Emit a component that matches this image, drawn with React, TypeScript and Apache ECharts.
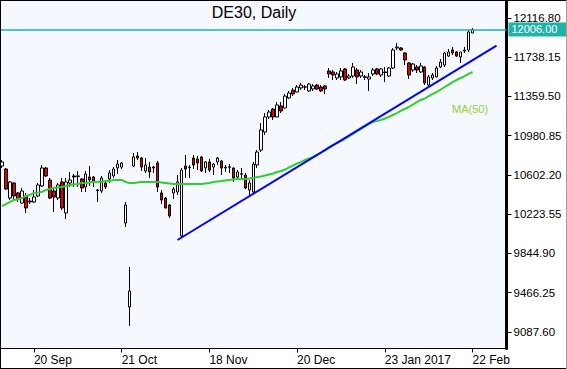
import React, { useEffect, useRef } from "react";
import * as echarts from "echarts";

// Daily candles (bar 0 .. bar 118 = 22 Feb)
const opens = [
  10689, 10660, 10380, 10525, 10429, 10332, 10400, 10351, 10342, 10400,
  10496, 10670, 10554, 10448, 10380, 10535, 10236, 10525, 10593, 10588,
  10564, 10486, 10583, 10583, 10458, 10448, 10525, 10564, 10593, 10670,
  10679, 10139, 9329, 10689, 10786, 10766, 10641, 10679, 10679, 10718,
  10429, 10380, 10313, 10429, 10438, 10014, 10689, 10679, 10766, 10757,
  10776, 10670, 10728, 10679, 10728, 10737, 10670, 10681, 10670, 10583,
  10610, 10602, 10458, 10438, 10699, 10843, 11017, 11162, 11239, 11162,
  11268, 11249, 11345, 11422, 11403, 11442, 11452, 11413, 11432, 11470,
  11451, 11461, 11606, 11596, 11538, 11548, 11625, 11538, 11557, 11615,
  11557, 11550, 11528, 11577, 11625, 11567, 11596, 11557, 11634, 11827,
  11827, 11779, 11683, 11615, 11644, 11596, 11644, 11470, 11538, 11548,
  11644, 11663, 11750, 11808, 11789, 11741, 11798, 11808, 11972,
];
const closes = [
  10728, 10467, 10535, 10400, 10371, 10448, 10284, 10342, 10390, 10506,
  10670, 10593, 10380, 10390, 10506, 10284, 10535, 10554, 10583, 10593,
  10477, 10612, 10554, 10535, 10452, 10573, 10486, 10622, 10660, 10708,
  10718, 10313, 9483, 10776, 10766, 10679, 10699, 10631, 10670, 10486,
  10361, 10284, 10207, 10467, 10535, 10650, 10660, 10675, 10699, 10718,
  10641, 10728, 10650, 10708, 10766, 10670, 10679, 10677, 10573, 10631,
  10614, 10477, 10525, 10708, 10824, 11036, 11162, 11210, 11162, 11278,
  11220, 11364, 11393, 11384, 11451, 11470, 11450, 11480, 11461, 11432,
  11413, 11432, 11577, 11567, 11577, 11606, 11519, 11557, 11644, 11548,
  11596, 11545, 11548, 11615, 11577, 11625, 11591, 11634, 11808, 11837,
  11808, 11712, 11567, 11673, 11615, 11654, 11490, 11548, 11567, 11634,
  11692, 11779, 11789, 11779, 11750, 11789, 11808, 11982, 12006,
];
const lows = [
  10670, 10457, 10361, 10361, 10342, 10325, 10236, 10322, 10332, 10390,
  10486, 10583, 10371, 10245, 10361, 10265, 10178, 10486, 10486, 10486,
  10438, 10438, 10496, 10486, 10342, 10429, 10467, 10525, 10573, 10612,
  10660, 10101, 9146, 10679, 10747, 10641, 10622, 10573, 10622, 10438,
  10322, 10280, 10187, 10371, 10409, 9994, 10573, 10573, 10660, 10650,
  10631, 10622, 10631, 10602, 10699, 10602, 10631, 10622, 10535, 10554,
  10554, 10467, 10409, 10429, 10670, 10824, 10988, 11142, 11133, 11160,
  11200, 11245, 11335, 11364, 11400, 11422, 11422, 11403, 11413, 11422,
  11403, 11384, 11538, 11519, 11519, 11519, 11509, 11528, 11538, 11480,
  11538, 11519, 11413, 11557, 11567, 11548, 11499, 11548, 11625, 11808,
  11798, 11663, 11528, 11596, 11586, 11586, 11470, 11461, 11519, 11545,
  11634, 11644, 11741, 11760, 11741, 11683, 11779, 11789, 11972,
];
const highs = [
  10747, 10670, 10544, 10530, 10438, 10477, 10429, 10380, 10458, 10525,
  10699, 10680, 10573, 10486, 10525, 10573, 10573, 10631, 10612, 10641,
  10573, 10641, 10689, 10593, 10467, 10593, 10535, 10650, 10679, 10747,
  10728, 10342, 9715, 10814, 10824, 10776, 10766, 10728, 10689, 10737,
  10458, 10390, 10322, 10486, 10602, 10670, 10795, 10699, 10795, 10786,
  10786, 10737, 10757, 10718, 10776, 10747, 10699, 10708, 10675, 10650,
  10670, 10622, 10554, 10728, 10843, 11104, 11200, 11229, 11249, 11306,
  11306, 11384, 11413, 11442, 11470, 11490, 11470, 11490, 11480, 11480,
  11470, 11470, 11634, 11615, 11596, 11634, 11634, 11577, 11683, 11634,
  11615, 11567, 11586, 11634, 11634, 11634, 11644, 11644, 11827, 11876,
  11837, 11789, 11692, 11683, 11663, 11683, 11654, 11567, 11586, 11654,
  11721, 11789, 11818, 11837, 11798, 11789, 11837, 12001, 12020,
];

// 50-period moving average
const ma50 = [
  10303, 10322, 10342, 10361, 10371, 10380, 10400, 10409, 10429, 10433,
  10438, 10458, 10467, 10477, 10482, 10486, 10496, 10506, 10511, 10515,
  10525, 10525, 10530, 10535, 10535, 10540, 10544, 10544, 10554, 10554,
  10554, 10535, 10525, 10525, 10530, 10535, 10535, 10535, 10535, 10535,
  10530, 10525, 10520, 10515, 10515, 10515, 10515, 10515, 10515, 10515,
  10515, 10520, 10525, 10535, 10540, 10544, 10549, 10554, 10559, 10564,
  10564, 10564, 10568, 10573, 10583, 10588, 10597, 10607, 10617, 10631,
  10641, 10655, 10675, 10694, 10713, 10728, 10747, 10761, 10776, 10795,
  10819, 10843, 10872, 10892, 10911, 10930, 10950, 10974, 10998, 11022,
  11046, 11070, 11094, 11114, 11123, 11133, 11147, 11162, 11181, 11200,
  11220, 11239, 11258, 11282, 11306, 11326, 11340, 11364, 11384, 11403,
  11427, 11451, 11475, 11499, 11519, 11538, 11557, 11577, 11596,
];

// trend line end points: [bar index, price]
const trendStart = [44, 9975];
const trendEnd = [124, 11851];

const lastPrice = 12006;

const yTicks = [9087.6, 9466.25, 9844.9, 10223.55, 10602.2, 10980.85, 11359.5, 11738.15, 12116.8];
const xTickIndex = [8, 30, 52, 74, 96, 118];
const xTickText = ["20 Sep", "21 Oct", "18 Nov", "20 Dec", "23 Jan 2017", "22 Feb"];
const slotCount = 127;

const FONT = "'Liberation Sans', Arial, sans-serif";

export default function App() {
  const ref = useRef<HTMLDivElement>(null);
  useEffect(() => {
    if (!ref.current) return;
    const chart = echarts.init(ref.current, undefined, { renderer: "svg" });
    const cats = Array.from({ length: slotCount }, (_, i) => String(i));
    const candles = opens.map((o, i) => [o, closes[i], lows[i], highs[i]]);
    const showTick = (index: number) => xTickIndex.indexOf(index) >= 0;
    const option: any = {
      animation: false,
      backgroundColor: "#ffffff",
      grid: {
        left: -1.5,
        top: 1,
        width: 508,
        height: 347.5,
        show: true,
        backgroundColor: "#F6F8FF",
        borderWidth: 0,
      },
      xAxis: {
        type: "category",
        data: cats,
        boundaryGap: true,
        axisLine: { show: true, lineStyle: { color: "#000", width: 1 } },
        axisTick: {
          show: true,
          interval: showTick,
          alignWithLabel: true,
          length: 4,
          lineStyle: { color: "#000" },
        },
        axisLabel: {
          interval: showTick,
          formatter: (v: string) => {
            const k = xTickIndex.indexOf(Number(v));
            return k >= 0 ? xTickText[k] : "";
          },
          align: "left",
          color: "#000",
          fontSize: 12,
          fontFamily: FONT,
          margin: 5,
        },
        splitLine: { show: false },
      },
      yAxis: {
        type: "value",
        position: "right",
        min: 8928.4,
        max: 12280.8,
        axisLine: { show: true, lineStyle: { color: "#000", width: 3 } },
        axisTick: {
          show: true,
          length: 5,
          customValues: yTicks,
          lineStyle: { color: "#000" },
        },
        axisLabel: {
          customValues: yTicks,
          formatter: (v: number) => v.toFixed(2),
          color: "#000",
          fontSize: 11.5,
          lineHeight: 10,
          fontFamily: FONT,
          margin: 7,
        },
        splitLine: { show: false },
      },
      series: [
        {
          type: "candlestick",
          data: candles,
          barWidth: 3,
          itemStyle: {
            color: "#ffffff",
            color0: "#E00000",
            borderColor: "#000000",
            borderColor0: "#000000",
            borderWidth: 1,
          },
          markLine: {
            silent: true,
            symbol: ["none", "none"],
            lineStyle: { color: "#1FB3A8", width: 1.5, type: "solid", opacity: 1 },
            label: {
              show: true,
              position: "end",
              distance: 2,
              formatter: lastPrice.toFixed(2),
              color: "#ffffff",
              backgroundColor: "#1FB3A8",
              padding: [1, 10, 1, 3],
              lineHeight: 12,
              fontSize: 11,
              fontFamily: FONT,
            },
            data: [{ yAxis: lastPrice }],
          },
        },
        {
          type: "line",
          name: "MA(50)",
          data: ma50,
          showSymbol: false,
          symbol: "none",
          lineStyle: { color: "#33CC33", width: 2 },
          itemStyle: { color: "#33CC33" },
        },
        {
          type: "line",
          name: "Trend",
          data: [trendStart, trendEnd],
          showSymbol: false,
          symbol: "none",
          clip: false,
          lineStyle: { color: "#0000FF", width: 2 },
          itemStyle: { color: "#0000FF" },
        },
      ],
      graphic: [
        {
          type: "text",
          x: 254,
          y: 12,
          z: 100,
          style: {
            text: "DE30, Daily",
            font: `16px ${FONT}`,
            fill: "#000",
            align: "center",
            verticalAlign: "middle",
          },
        },
        {
          type: "text",
          x: 452,
          y: 109,
          z: 100,
          style: {
            text: "MA(50)",
            font: `11px ${FONT}`,
            fill: "#9ACD32",
            align: "left",
            verticalAlign: "middle",
          },
        },
        { type: "line", z: 100, shape: { x1: 0.5, y1: 0, x2: 0.5, y2: 369 }, style: { stroke: "#000", lineWidth: 1 } },
        { type: "line", z: 100, shape: { x1: 0, y1: 0.5, x2: 567, y2: 0.5 }, style: { stroke: "#000", lineWidth: 1 } },
        { type: "line", z: 100, shape: { x1: 0, y1: 368.5, x2: 567, y2: 368.5 }, style: { stroke: "#000", lineWidth: 1 } },
        { type: "line", z: 100, shape: { x1: 566.5, y1: 0, x2: 566.5, y2: 369 }, style: { stroke: "#A0A0A0", lineWidth: 1 } },
      ],
    };
    chart.setOption(option);
    return () => chart.dispose();
  }, []);
  return (
    <div
      ref={ref}
      style={{ position: "fixed", left: 0, top: 0, width: 567, height: 369 }}
    />
  );
}
